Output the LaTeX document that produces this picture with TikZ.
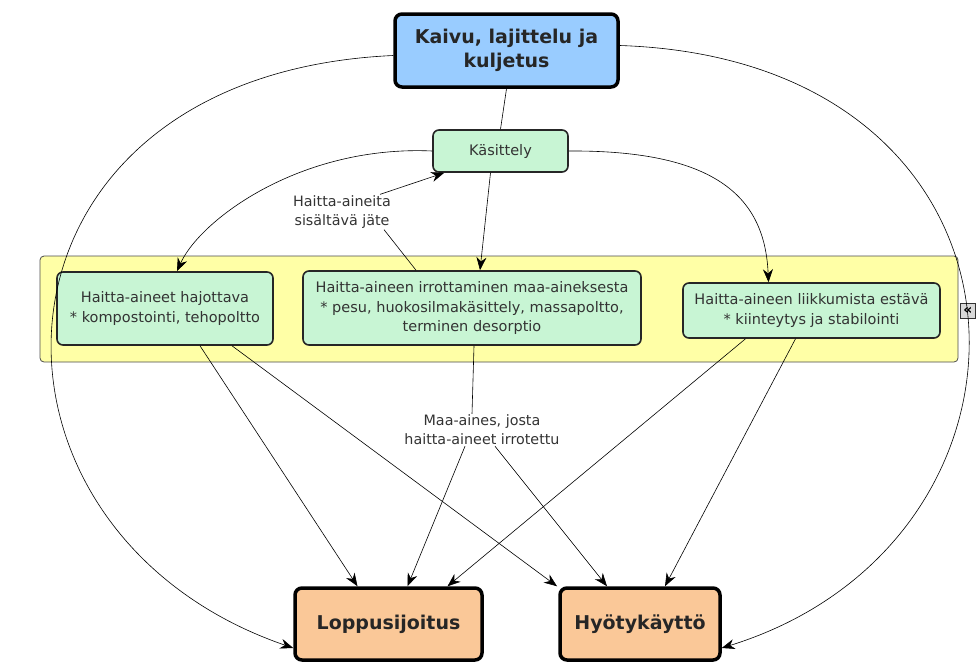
\documentclass[tikz,border=0pt]{standalone}
\usepackage{fontspec}
\setmainfont{DejaVu Sans}
\usepackage{tikz}
\usetikzlibrary{arrows.meta}
\definecolor{kaivublue}{RGB}{153,204,255}
\definecolor{mintfill}{RGB}{200,245,212}
\definecolor{lightyellow}{RGB}{255,255,166}
\definecolor{peach}{RGB}{250,200,152}
\tikzstyle{arrow} = [semithick,-{Stealth[length=13pt,width=10pt]}]
\tikzstyle{line} = [semithick]
\tikzstyle{mainbox} = [rectangle, rounded corners=7pt, draw=black, line width=3.5pt, font=\bfseries\fontsize{19}{24}\selectfont, align=center, text=black!85]
\tikzstyle{method} = [rectangle, rounded corners=6pt, draw=black!85, line width=1.6pt, fill=mintfill, font=\fontsize{14.5}{19.5}\selectfont, align=center, text=black!80, inner sep=2pt]
\tikzstyle{flowlabel} = [font=\fontsize{14.3}{19}\selectfont, align=center, text=black!80, inner sep=1pt]

\begin{document}
\begin{tikzpicture}[x=1pt,y=-1pt]
            \useasboundingbox (0,0) rectangle (979,662);
            \node (kontti) [rectangle, rounded corners=4pt, draw=black!70, thick, fill=lightyellow, minimum width=918pt, minimum height=106pt] at (499,309) {};
            \node (kaivu) [mainbox, fill=kaivublue, minimum width=223pt, minimum height=73pt] at (506.5,50.5) {Kaivu, lajittelu ja\\kuljetus};
            \node (kasittely) [method, minimum width=135pt, minimum height=42pt] at (500.5,151) {Käsittely};
            \node (hajottava) [method, minimum width=216pt, minimum height=73pt] at (165,308.5) {Haitta-aineet hajottava\\* kompostointi, tehopoltto};
            \node (irrotus) [method, minimum width=338pt, minimum height=74pt] at (472,308) {Haitta-aineen irrottaminen maa-aineksesta\\* pesu, huokosilmakäsittely, massapoltto,\\terminen desorptio};
            \node (esto) [method, minimum width=257pt, minimum height=55pt] at (811.5,310.5) {Haitta-aineen liikkumista estävä\\* kiinteytys ja stabilointi};
            \node (pienenna) [rectangle, draw=black!80, fill=black!15, inner sep=0pt, minimum size=15pt, font=\bfseries\fontsize{14}{14}\selectfont] at (968,311) {«};
            \node (loppu) [mainbox, fill=peach, minimum width=187pt, minimum height=72pt] at (388.5,624) {Loppusijoitus};
            \node (hyoty) [mainbox, fill=peach, minimum width=160pt, minimum height=72pt] at (640,624) {Hyötykäyttö};
            \node (jate) [flowlabel] at (342,212) {Haitta-aineita\\sisältävä jäte};
            \node (maa) [flowlabel] at (482,430) {Maa-aines, josta\\haitta-aineet irrotettu};

            \draw [line] (kaivu.south) -- (kasittely.north);
            \draw [arrow] ([yshift=-5pt]kaivu.west) .. controls (-35,75) and (-50,530) .. ([yshift=-24pt]loppu.west);
            \draw [arrow] ([yshift=5pt]kaivu.east) .. controls (1060,60) and (1070,540) .. ([yshift=-24pt]hyoty.east);
            \draw [arrow] (kasittely.west) .. controls (300,145) and (200,220) .. ([xshift=12pt]hajottava.north);
            \draw [arrow] ([xshift=-10pt]kasittely.south) -- ([xshift=8pt]irrotus.north);
            \draw [arrow] (kasittely.east) .. controls (720,150) and (765,200) .. ([xshift=-43pt]esto.north);
            \draw [line] ([xshift=-56pt]irrotus.north) -- ([xshift=-8pt]jate.south east);
            \draw [arrow] ([xshift=-12pt]jate.north east) -- ([xshift=12pt]kasittely.south west);
            \draw [arrow] ([xshift=35pt]hajottava.south) -- ([xshift=-31pt]loppu.north);
            \draw [arrow] ([xshift=67pt]hajottava.south) -- ([xshift=-83pt]hyoty.north);
            \draw [line] ([xshift=2pt]irrotus.south) -- (maa.north -| irrotus.south);
            \draw [arrow] ([xshift=-17pt]maa.south) -- ([xshift=19pt]loppu.north);
            \draw [arrow] ([xshift=13pt]maa.south) -- ([xshift=-33pt]hyoty.north);
            \draw [arrow] ([xshift=-66pt]esto.south) -- ([xshift=59pt]loppu.north);
            \draw [arrow] ([xshift=-16pt]esto.south) -- ([xshift=25pt]hyoty.north);
        \end{tikzpicture}
\end{document}
